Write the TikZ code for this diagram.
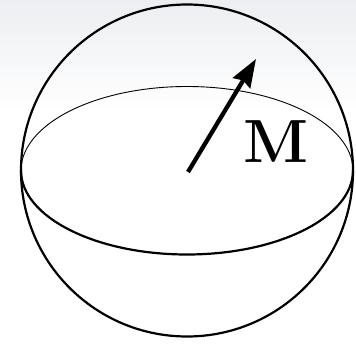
\documentclass[tikz,border=0pt]{standalone}
\usepackage{tikz}
\usetikzlibrary{arrows.meta}
\definecolor{slidegray}{HTML}{ECEEF1}
\tikzset{
    sphere/.style={line width=2.2pt, black},
    backline/.style={line width=0.9pt, black},
    moment/.style={line width=4.3pt, -{Stealth[length=28pt,width=20pt,inset=3pt]}}
}

\begin{document}
\begin{tikzpicture}[x=1pt,y=1pt]
    \useasboundingbox (0,0) rectangle (356,343);

    % Slide background
    \shade[top color=slidegray, bottom color=white] (0,233) rectangle (356,343);

    % Sphere outline
    \draw[sphere] (187,172.5) circle (166);

    % Equator: back half thin, front half thick
    \draw[backline] (187,172.5) ++(166,0) arc[start angle=0, end angle=180, x radius=166, y radius=84];
    \draw[sphere] (187,172.5) ++(-166,0) arc[start angle=180, end angle=360, x radius=166, y radius=84];

    % Magnetisation vector
    \coordinate (origin) at (188,171);
    \coordinate (tip) at (256,284);
    \draw[moment] (origin) -- (tip);

    % Label
    \node[font=\fontsize{61}{61}\selectfont\bfseries, inner sep=0pt] (label) at (276,201.5) {M};

\end{tikzpicture}
\end{document}
